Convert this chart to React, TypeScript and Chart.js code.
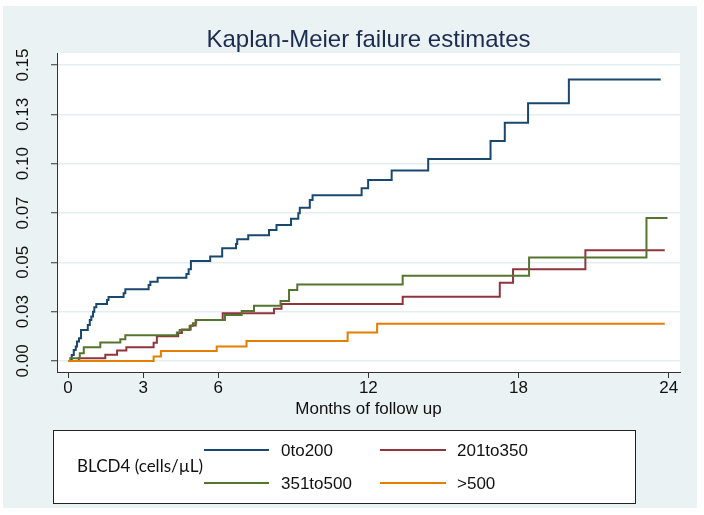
import React, { useEffect, useRef } from "react";
import { Chart, registerables } from "chart.js";

Chart.register(...registerables);

// ---- text ----
const titleText = "Kaplan-Meier failure estimates";
const xAxisTitle = "Months of follow up";
const legendTitle = "BLCD4 (cells/µL)";

// ---- axes ----
const xTicks = [0, 3, 6, 12, 18, 24];
const yTicks = [0, 0.025, 0.05, 0.075, 0.1, 0.125, 0.15];
const yTickLabels = ["0.00", "0.03", "0.05", "0.07", "0.10", "0.13", "0.15"];

// ---- series (time in months, cumulative failure) ----
const seriesLabels = ["0to200", "201to350", "351to500", ">500"];
const seriesColors = ["#1a476f", "#90353b", "#55752f", "#e37e00"];

const times0to200 = [0, 0.15, 0.23, 0.31, 0.36, 0.44, 0.52, 0.79, 0.87, 0.93, 1.0, 1.05, 1.13, 1.56, 1.62, 2.22, 2.29, 3.22, 3.29, 3.58, 4.73, 4.82, 4.91, 5.68, 6.16, 6.71, 6.76, 7.2, 8.03, 8.33, 8.91, 9.2, 9.26, 9.66, 9.77, 11.73, 11.99, 12.93, 14.39, 16.88, 17.45, 18.38, 20.01, 23.68];
const fail0to200 = [0, 0.003, 0.0056, 0.0073, 0.0098, 0.0115, 0.0157, 0.0182, 0.0208, 0.0225, 0.025, 0.0272, 0.0289, 0.0309, 0.0324, 0.0343, 0.0363, 0.0385, 0.0402, 0.0422, 0.0441, 0.0465, 0.0507, 0.0529, 0.0571, 0.0593, 0.0617, 0.0637, 0.0664, 0.0689, 0.0721, 0.0749, 0.0777, 0.0816, 0.084, 0.0875, 0.0917, 0.0965, 0.1024, 0.1115, 0.1208, 0.1306, 0.1427, 0.1427];

const times201to350 = [0, 0.43, 1.49, 1.96, 2.33, 3.42, 3.55, 4.4, 4.55, 4.9, 5.1, 6.18, 8.23, 8.53, 13.37, 17.25, 17.78, 20.67, 23.84];
const fail201to350 = [0, 0.0014, 0.0031, 0.0053, 0.007, 0.0092, 0.0125, 0.0142, 0.016, 0.018, 0.0208, 0.0242, 0.0265, 0.0289, 0.0326, 0.0397, 0.0465, 0.0561, 0.0561];

const times351to500 = [0, 0.09, 0.47, 0.63, 1.29, 2.09, 2.29, 4.35, 4.46, 4.86, 4.99, 5.12, 6.27, 6.94, 7.43, 8.49, 8.83, 9.16, 13.37, 18.42, 23.11, 23.95];
const fail351to500 = [0, 0.0014, 0.0039, 0.0069, 0.0093, 0.011, 0.013, 0.0144, 0.0157, 0.0177, 0.0191, 0.0208, 0.0233, 0.0253, 0.028, 0.0304, 0.036, 0.0387, 0.0432, 0.0525, 0.0725, 0.0725];

const timesOver500 = [0, 3.42, 3.71, 5.94, 7.13, 11.17, 12.35, 23.84];
const failOver500 = [0, 0.0022, 0.0051, 0.0073, 0.0101, 0.0144, 0.0188, 0.0188];

const seriesTimes = [times0to200, times201to350, times351to500, timesOver500];
const seriesFail = [fail0to200, fail201to350, fail351to500, failOver500];

const BG = "#eaf2f3";
const AXIS = "#333333";
const SANS = "'Liberation Sans', Arial, sans-serif";

const decorPlugin = {
  id: "decor",
  beforeDraw(chart: any) {
    const { ctx, chartArea } = chart;
    ctx.save();
    ctx.fillStyle = "#ffffff";
    ctx.fillRect(0, 0, chart.width, chart.height);
    ctx.fillStyle = BG;
    ctx.fillRect(3, 6, 694, 502);
    ctx.fillStyle = "#ffffff";
    ctx.fillRect(chartArea.left, chartArea.top, chartArea.right - chartArea.left, chartArea.bottom - chartArea.top);
    ctx.restore();
  },
  afterDraw(chart: any) {
    const { ctx, chartArea } = chart;
    const yScale = chart.scales.y;
    const cx = (chartArea.left + chartArea.right) / 2;
    ctx.save();
    // title
    ctx.fillStyle = "#1c2b50";
    ctx.font = `24px ${SANS}`;
    ctx.textAlign = "center";
    ctx.textBaseline = "alphabetic";
    ctx.fillText(titleText, cx, 47);
    // y tick labels (rotated)
    ctx.fillStyle = "#111111";
    ctx.font = `17px ${SANS}`;
    yTicks.forEach((v, i) => {
      const py = yScale.getPixelForValue(v);
      ctx.save();
      ctx.translate(23, py);
      ctx.rotate(-Math.PI / 2);
      ctx.textAlign = "center";
      ctx.textBaseline = "middle";
      ctx.fillText(yTickLabels[i], 0, 0);
      ctx.restore();
    });
    // x axis title
    ctx.textAlign = "center";
    ctx.textBaseline = "middle";
    ctx.fillText(xAxisTitle, cx, 409);
    // legend box
    ctx.fillStyle = "#ffffff";
    ctx.fillRect(53, 430, 582, 73);
    ctx.strokeStyle = "#222222";
    ctx.lineWidth = 1;
    ctx.strokeRect(53.5, 430.5, 582, 73);
    ctx.fillStyle = "#111111";
    ctx.textAlign = "left";
    ctx.font = "17px Lato, 'Open Sans', sans-serif";
    ctx.fillText(legendTitle, 77, 467);
    const slots = [
      { x1: 204, x2: 269, tx: 281, y: 450 },
      { x1: 380, x2: 446, tx: 457, y: 450 },
      { x1: 204, x2: 269, tx: 281, y: 483 },
      { x1: 380, x2: 446, tx: 457, y: 483 },
    ];
    ctx.font = `17px ${SANS}`;
    seriesLabels.forEach((lab, i) => {
      const s = slots[i];
      ctx.strokeStyle = seriesColors[i];
      ctx.lineWidth = 2;
      ctx.beginPath();
      ctx.moveTo(s.x1, s.y);
      ctx.lineTo(s.x2, s.y);
      ctx.stroke();
      ctx.fillStyle = "#111111";
      ctx.fillText(lab, s.tx, s.y + 1);
    });
    ctx.restore();
  },
};

export default function App() {
  const canvasRef = useRef<HTMLCanvasElement | null>(null);

  useEffect(() => {
    if (!canvasRef.current) return;
    const datasets = seriesLabels.map((label, i) => ({
      label,
      data: seriesTimes[i].map((t, j) => ({ x: t, y: seriesFail[i][j] })),
      borderColor: seriesColors[i],
      backgroundColor: seriesColors[i],
      borderWidth: 2,
      pointRadius: 0,
      stepped: true as const,
      fill: false,
      order: 3 - i,
    }));

    const chart = new Chart(canvasRef.current, {
      type: "line",
      data: { datasets },
      options: {
        responsive: false,
        animation: false,
        layout: { padding: { top: 53, right: 24, bottom: 93, left: 0 } },
        plugins: {
          legend: { display: false },
          title: { display: false },
          tooltip: { enabled: false },
        },
        scales: {
          x: {
            type: "linear",
            min: -0.44,
            max: 24.45,
            afterBuildTicks: (scale: any) => {
              scale.ticks = xTicks.map((v) => ({ value: v }));
            },
            afterFit: (scale: any) => {
              scale.height = 50;
            },
            ticks: {
              color: "#111111",
              font: { family: SANS, size: 17 },
              padding: 0,
              maxRotation: 0,
              minRotation: 0,
              autoSkip: false,
              callback: (v: any) => String(v),
            },
            grid: {
              display: true,
              drawOnChartArea: false,
              drawTicks: true,
              tickLength: 6,
              color: AXIS,
              tickColor: AXIS,
              lineWidth: 1,
            },
            border: { display: true, color: AXIS, width: 1 },
          },
          y: {
            type: "linear",
            min: -0.0056,
            max: 0.1561,
            afterBuildTicks: (scale: any) => {
              scale.ticks = yTicks.map((v) => ({ value: v }));
            },
            afterFit: (scale: any) => {
              scale.width = 57;
            },
            ticks: { display: false },
            grid: {
              display: true,
              drawOnChartArea: true,
              drawTicks: true,
              tickLength: 6,
              color: "#e4eef0",
              lineWidth: 1.5,
              tickColor: AXIS,
              tickWidth: 1,
            },
            border: { display: true, color: AXIS, width: 1 },
          },
        },
      },
      plugins: [decorPlugin],
    });
    return () => chart.destroy();
  }, []);

  return (
    <div style={{ position: "absolute", left: 0, top: 0, width: 704, height: 515 }}>
      <canvas ref={canvasRef} width={704} height={515} style={{ display: "block" }} />
    </div>
  );
}
